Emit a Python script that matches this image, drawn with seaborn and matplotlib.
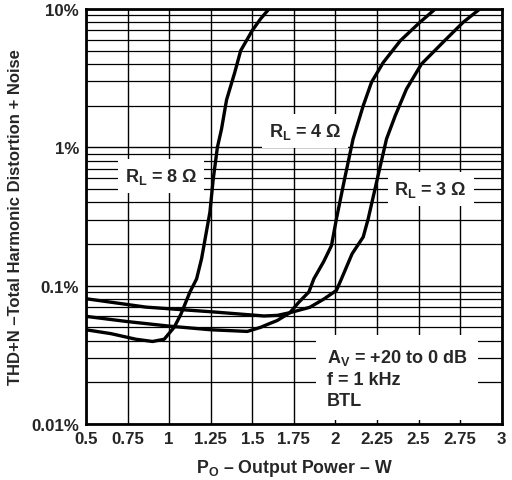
import numpy as np
import pandas as pd
import matplotlib
matplotlib.use("Agg")
import matplotlib.pyplot as plt
import seaborn as sns
from matplotlib.ticker import FixedLocator, LogLocator, NullFormatter

# curves (THD+N in %)
x_8ohm = [0.5, 0.65, 0.8, 0.9, 0.97, 1.03, 1.07, 1.125, 1.165, 1.195, 1.245,
          1.265, 1.29, 1.315, 1.345, 1.395, 1.43, 1.5, 1.55, 1.6]
thd_8ohm = [0.048, 0.045, 0.041, 0.0395, 0.041, 0.050, 0.062, 0.090, 0.112,
            0.157, 0.34, 0.59, 1.0, 1.36, 2.2, 3.5, 5.0, 7.0, 8.5, 10]

x_4ohm = [0.5, 0.75, 1.0, 1.25, 1.47, 1.55, 1.6, 1.65, 1.726, 1.78, 1.84,
          1.87, 1.93, 1.976, 2.006, 2.056, 2.106, 2.167, 2.217, 2.287, 2.39,
          2.507, 2.6]
thd_4ohm = [0.060, 0.055, 0.051, 0.048, 0.0467, 0.050, 0.053, 0.056, 0.0638,
            0.076, 0.090, 0.112, 0.15, 0.195, 0.305, 0.6, 1.15, 2.0, 2.96,
            4.1, 5.9, 8.0, 10]

x_3ohm = [0.5, 0.86, 1.265, 1.57, 1.65, 1.726, 1.846, 1.93, 2.006, 2.036,
          2.1, 2.167, 2.197, 2.25, 2.307, 2.36, 2.427, 2.517, 2.65, 2.767, 2.868]
thd_3ohm = [0.0805, 0.070, 0.0646, 0.0604, 0.061, 0.0638, 0.0698, 0.080,
            0.0925, 0.112, 0.17, 0.225, 0.305, 0.58, 1.15, 1.7, 2.64, 4.0,
            5.8, 8.0, 10]

x_ticks = [0.5, 0.75, 1, 1.25, 1.5, 1.75, 2, 2.25, 2.5, 2.75, 3]
x_ticklabels = ["0.5", "0.75", "1", "1.25", "1.5", "1.75", "2", "2.25",
                "2.5", "2.75", "3"]
y_ticks = [0.01, 0.1, 1, 10]
y_ticklabels = ["0.01%", "0.1%", "1%", "10%"]

sns.set_theme(style="white")
plt.rcParams['font.family'] = ['Liberation Sans', 'DejaVu Sans']
plt.rcParams['font.weight'] = 'bold'
plt.rcParams['mathtext.fontset'] = 'custom'
plt.rcParams['mathtext.rm'] = 'Liberation Sans:bold'
plt.rcParams['mathtext.bf'] = 'Liberation Sans:bold'
plt.rcParams['mathtext.it'] = 'Liberation Sans:bold'

fig = plt.figure(figsize=(5.12, 4.81), dpi=100)
ax = fig.add_axes([0.168, 0.1164, 0.812, 0.8628])

for xs, ys in [(x_8ohm, thd_8ohm), (x_4ohm, thd_4ohm), (x_3ohm, thd_3ohm)]:
    df = pd.DataFrame({'po': xs, 'thd': ys})
    sns.lineplot(data=df, x='po', y='thd', ax=ax, color='black',
                 linewidth=2.4, sort=False, zorder=4)

ax.set_yscale('log')
ax.set_xlim(0.5, 3)
ax.set_ylim(0.01, 10)

ax.xaxis.set_major_locator(FixedLocator(x_ticks))
ax.set_xticklabels(x_ticklabels)
ax.yaxis.set_major_locator(FixedLocator(y_ticks))
ax.set_yticklabels(y_ticklabels)
ax.yaxis.set_minor_locator(LogLocator(base=10, subs=np.arange(2, 10)))
ax.yaxis.set_minor_formatter(NullFormatter())

ax.set_axisbelow(True)
ax.grid(True, which='major', color='black', linewidth=1.0)
ax.grid(True, which='minor', axis='y', color='black', linewidth=0.9)
ax.tick_params(axis='both', which='both', length=0, labelsize=12.2, pad=5)
for lbl in ax.get_xticklabels() + ax.get_yticklabels():
    lbl.set_fontweight('bold')

for sp in ax.spines.values():
    sp.set_color('black')
    sp.set_linewidth(2)

ax.set_xlabel(r"$\mathregular{P_O}$ – Output Power – W", fontsize=12.8,
              fontweight='bold', labelpad=8)
ax.set_ylabel("THD+N –Total Harmonic Distortion + Noise", fontsize=12,
              fontweight='bold', labelpad=6)

box = dict(facecolor='white', edgecolor='none', pad=5)
ax.text(0.95, 0.62, r"$\mathregular{R_L}$ = 8 Ω", fontsize=13, fontweight='bold',
        ha='center', va='center', bbox=box, zorder=3)
ax.text(1.816, 1.32, r"$\mathregular{R_L}$ = 4 Ω", fontsize=13, fontweight='bold',
        ha='center', va='center', bbox=box, zorder=3)
ax.text(2.573, 0.50, r"$\mathregular{R_L}$ = 3 Ω", fontsize=13, fontweight='bold',
        ha='center', va='center', bbox=box, zorder=3)
ax.text(1.948, 0.0215, "$\\mathregular{A_V}$ = +20 to 0 dB\nf = 1 kHz\nBTL",
        fontsize=13, fontweight='bold', ha='left', va='center',
        linespacing=1.3, bbox=dict(facecolor='white', edgecolor='none', pad=8),
        zorder=3)

fig.savefig("out.png", dpi=100)
